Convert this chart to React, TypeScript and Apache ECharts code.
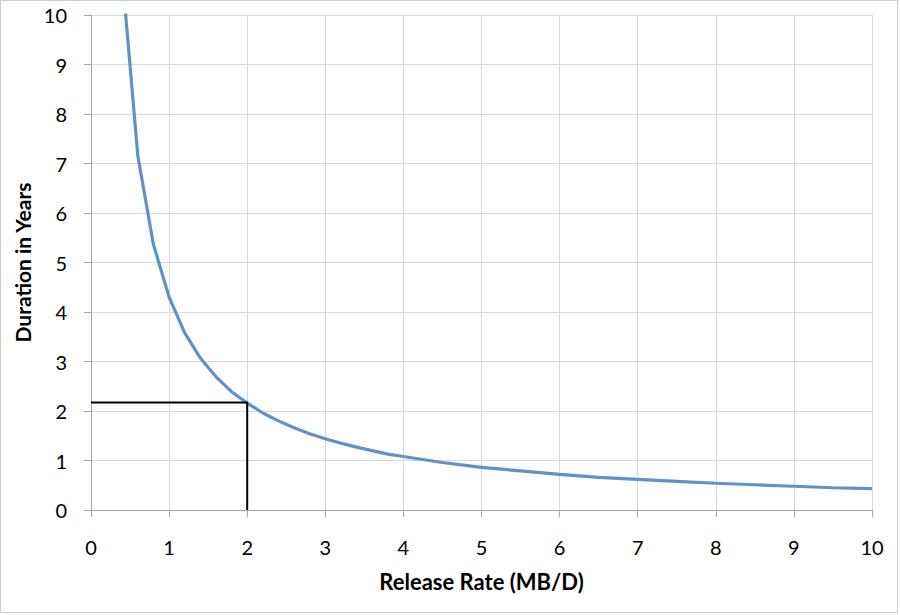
import React, { useEffect, useRef } from "react";
import * as echarts from "echarts";

const xTicks = [0, 1, 2, 3, 4, 5, 6, 7, 8, 9, 10];
const releaseRate = [0.4, 0.6, 0.8, 1.0, 1.2, 1.4, 1.6, 1.8, 2.0, 2.2, 2.4, 2.6, 2.8, 3.0, 3.2, 3.4, 3.6, 3.8, 4.0, 4.5, 5.0, 5.5, 6.0, 6.5, 7.0, 7.5, 8.0, 8.5, 9.0, 9.5, 10.0];
const durationYears = [10.8, 7.15, 5.36, 4.3, 3.58, 3.07, 2.69, 2.39, 2.16, 1.96, 1.8, 1.66, 1.54, 1.44, 1.35, 1.27, 1.2, 1.13, 1.08, 0.96, 0.86, 0.79, 0.72, 0.66, 0.62, 0.58, 0.54, 0.51, 0.48, 0.45, 0.43];
const markerX = [0, 2, 2];
const markerY = [2.17, 2.17, 0];

export default function App() {
  const ref = useRef<HTMLDivElement>(null);
  useEffect(() => {
    document.body.style.margin = "0";
    const chart = echarts.init(ref.current!, null, { renderer: "svg" });
    const font = "Lato, 'Open Sans', sans-serif";
    chart.setOption({
      animation: false,
      backgroundColor: "#ffffff",
      grid: { left: 91, right: 28, top: 15, bottom: 105 },
      xAxis: {
        type: "value",
        min: 0,
        max: 10,
        interval: 1,
        name: "Release Rate (MB/D)",
        nameLocation: "middle",
        nameGap: 60,
        nameTextStyle: { fontFamily: font, fontSize: 22, fontWeight: "bold", color: "#000" },
        axisLine: { show: true, lineStyle: { color: "#a6a6a6", width: 1 } },
        axisTick: { show: true, length: 7, lineStyle: { color: "#a6a6a6" } },
        axisLabel: { fontFamily: font, fontSize: 20, color: "#000", margin: 27, formatter: (v: number) => String(v) },
        splitLine: { show: true, lineStyle: { color: "#d9d9d9", width: 1 } },
        data: xTicks,
      },
      yAxis: {
        type: "value",
        min: 0,
        max: 10,
        interval: 1,
        name: "Duration in Years",
        nameLocation: "middle",
        nameGap: 54,
        nameRotate: 90,
        nameTextStyle: { fontFamily: font, fontSize: 21, fontWeight: "bold", color: "#000" },
        axisLine: { show: true, lineStyle: { color: "#a6a6a6", width: 1 } },
        axisTick: { show: true, length: 7, lineStyle: { color: "#a6a6a6" } },
        axisLabel: { fontFamily: font, fontSize: 20, color: "#000", margin: 24 },
        splitLine: { show: true, lineStyle: { color: "#d9d9d9", width: 1 } },
      },
      series: [
        {
          type: "line",
          data: releaseRate.map((x, i) => [x, durationYears[i]]),
          showSymbol: false,
          clip: true,
          lineStyle: { color: "#5f91cb", width: 3.2 },
          itemStyle: { color: "#5f91cb" },
        },
        {
          type: "line",
          data: markerX.map((x, i) => [x, markerY[i]]),
          showSymbol: false,
          lineStyle: { color: "#000000", width: 2 },
          itemStyle: { color: "#000000" },
          z: 3,
        },
      ],
      graphic: [
        {
          type: "rect",
          shape: { x: 0.5, y: 0.5, width: 897, height: 612 },
          style: { fill: "none", stroke: "#cdcdcd", lineWidth: 1 },
          silent: true,
        },
      ],
    });
    return () => chart.dispose();
  }, []);
  return <div ref={ref} style={{ width: 900, height: 615 }} />;
}
